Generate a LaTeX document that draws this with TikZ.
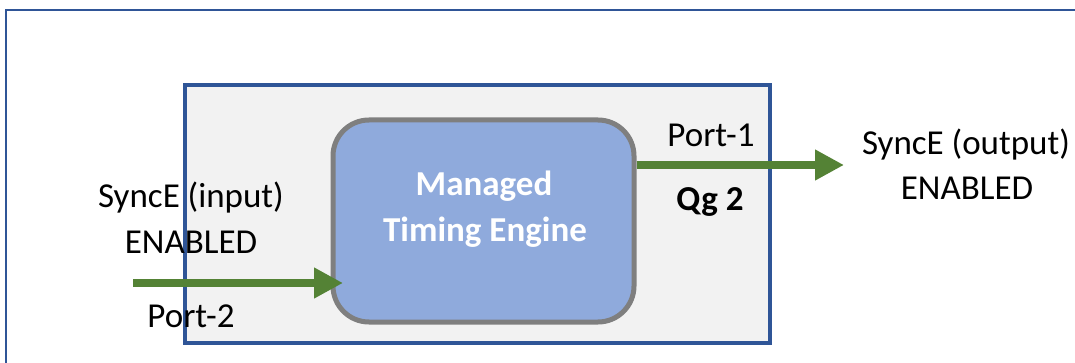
\documentclass[tikz,border=0pt]{standalone}
\usepackage{fontspec}
\setmainfont{Carlito}
\usetikzlibrary{arrows.meta}
\definecolor{frameblue}{HTML}{2F5597}
\definecolor{boxgray}{HTML}{F2F2F2}
\definecolor{engfill}{HTML}{8FAADC}
\definecolor{enggray}{HTML}{7F7F7F}
\definecolor{arrowgreen}{HTML}{548235}
\tikzset{
  lbl/.style={inner sep=0pt, anchor=base, font=\fontsize{35}{46}\selectfont, align=center},
  sig/.style={draw=arrowgreen, line width=8pt, -{Triangle[length=29pt,width=29pt]}},
}
\begin{document}
\begin{tikzpicture}[x=1pt,y=-1pt]
\useasboundingbox (0,0) rectangle (1075,363);
% outer frame (partially visible)
\draw[frameblue, line width=1.2pt] (6,363) -- (6,10) -- (1075,10);
\draw[frameblue, line width=2pt] (6,10) -- (1075,10);
% device box
\node[draw=frameblue, fill=boxgray, line width=4pt, minimum width=585pt, minimum height=258pt, inner sep=0pt] (dev) at (477.5,214) {};
% engine
\node[draw=enggray, fill=engfill, line width=5pt, rounded corners=36pt, minimum width=301pt, minimum height=202pt, inner sep=0pt] (eng) at (483.5,221) {};
\node[lbl, text=white, font=\fontsize{35}{46}\selectfont\bfseries] (engt) at (484,196) {Managed};
\node[lbl, text=white, font=\fontsize{35}{46}\selectfont\bfseries] (engt2) at (485,241) {Timing Engine};
% input side
\node[lbl] (in1) at (191,208) {SyncE (input)};
\node[lbl] (in2) at (191,254) {ENABLED};
\node[lbl] (p2) at (191,327) {Port-2};
\coordinate (inS) at (133,283);
\coordinate (inE) at (343,283);
\draw[sig] (inS) -- (inE);
% output side
\node[lbl] (p1) at (711,147) {Port-1};
\node[lbl, font=\fontsize{35}{46}\selectfont\bfseries] (qg) at (710,211) {Qg 2};
\node[lbl] (out1) at (966,155) {SyncE (output)};
\node[lbl] (out2) at (967,200) {ENABLED};
\coordinate (outS) at (eng.east |- 0,165);
\coordinate (outE) at (844,165);
\draw[sig] (outS) -- (outE);
\end{tikzpicture}
\end{document}
